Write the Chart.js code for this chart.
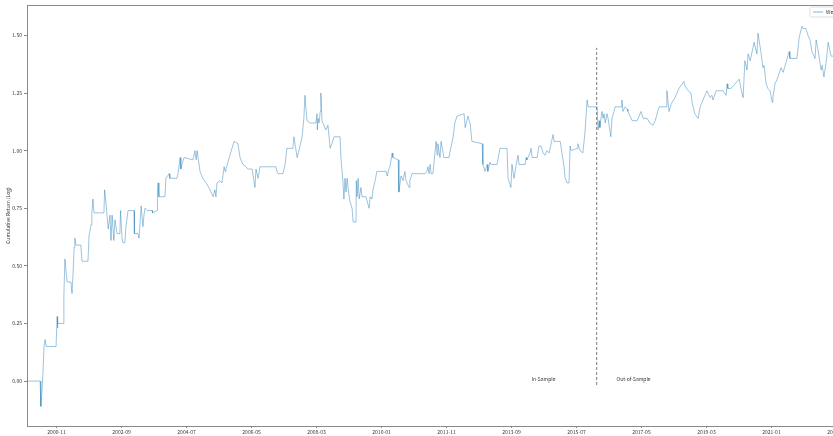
<!DOCTYPE html>
<html>
<head>
<meta charset="utf-8">
<script src="https://cdn.jsdelivr.net/npm/chart.js@4"></script>
<style>
html, body { margin: 0; padding: 0; background: #fff; overflow: hidden; }
canvas { display: block; }
</style>
</head>
<body>
<canvas id="chart" width="860" height="436"></canvas>
<script>
// dates as decimal years
const dates = [
  2000.00, 2000.37, 2000.39, 2000.42, 2000.45, 2000.48, 2000.51, 2000.54, 2000.82, 2000.85,
  2000.86, 2000.87, 2001.02, 2001.04, 2001.07, 2001.10, 2001.13, 2001.24, 2001.27, 2001.30,
  2001.33, 2001.35, 2001.38, 2001.52, 2001.55, 2001.72, 2001.75, 2001.81, 2001.83, 2001.86,
  2001.89, 2002.17, 2002.19, 2002.23, 2002.29, 2002.34, 2002.37, 2002.40, 2002.45, 2002.48,
  2002.54, 2002.62, 2002.64, 2002.68, 2002.71, 2002.76, 2002.79, 2002.85, 2003.02, 2003.03,
  2003.13, 2003.16, 2003.22, 2003.27, 2003.30, 2003.33, 2003.39, 2003.53, 2003.54, 2003.67,
  2003.68, 2003.70, 2003.72, 2003.89, 2003.92, 2004.01, 2004.03, 2004.23, 2004.26, 2004.32,
  2004.34, 2004.37, 2004.43, 2004.68, 2004.74, 2004.77, 2004.80, 2004.88, 2004.96, 2005.05,
  2005.13, 2005.22, 2005.25, 2005.30, 2005.33, 2005.36, 2005.44, 2005.50, 2005.56, 2005.59,
  2005.61, 2005.84, 2005.95, 2006.01, 2006.09, 2006.18, 2006.23, 2006.35, 2006.43, 2006.46,
  2006.52, 2006.57, 2006.63, 2007.02, 2007.05, 2007.08, 2007.22, 2007.28, 2007.33, 2007.50,
  2007.53, 2007.62, 2007.67, 2007.76, 2007.81, 2007.84, 2007.87, 2007.90, 2007.98, 2008.15,
  2008.18, 2008.19, 2008.21, 2008.24, 2008.27, 2008.29, 2008.32, 2008.43, 2008.49, 2008.55,
  2008.60, 2008.66, 2008.83, 2008.86, 2008.91, 2008.94, 2008.97, 2009.00, 2009.03, 2009.08,
  2009.11, 2009.17, 2009.20, 2009.28, 2009.29, 2009.31, 2009.34, 2009.37, 2009.42, 2009.45,
  2009.56, 2009.65, 2009.68, 2009.73, 2009.76, 2009.82, 2009.87, 2010.13, 2010.16, 2010.21,
  2010.24, 2010.30, 2010.32, 2010.47, 2010.49, 2010.55, 2010.61, 2010.66, 2010.69, 2010.78,
  2010.80, 2010.86, 2011.23, 2011.28, 2011.31, 2011.34, 2011.37, 2011.40, 2011.45, 2011.54,
  2011.57, 2011.59, 2011.65, 2011.68, 2011.76, 2011.90, 2012.02, 2012.07, 2012.13, 2012.33,
  2012.36, 2012.44, 2012.47, 2012.50, 2012.55, 2012.84, 2012.86, 2012.92, 2012.98, 2013.00,
  2013.06, 2013.09, 2013.26, 2013.34, 2013.54, 2013.57, 2013.65, 2013.68, 2013.74, 2013.79,
  2013.85, 2013.88, 2014.05, 2014.08, 2014.10, 2014.19, 2014.22, 2014.25, 2014.39, 2014.44,
  2014.50, 2014.56, 2014.61, 2014.67, 2014.73, 2014.84, 2014.87, 2015.04, 2015.12, 2015.15,
  2015.18, 2015.23, 2015.29, 2015.32, 2015.35, 2015.52, 2015.54, 2015.60, 2015.68, 2015.74,
  2015.80, 2015.83, 2016.08, 2016.11, 2016.14, 2016.16, 2016.19, 2016.22, 2016.25, 2016.28,
  2016.31, 2016.33, 2016.36, 2016.39, 2016.47, 2016.50, 2016.56, 2016.59, 2016.76, 2016.78,
  2016.81, 2016.87, 2016.93, 2016.95, 2017.07, 2017.21, 2017.24, 2017.32, 2017.38, 2017.41,
  2017.49, 2017.57, 2017.66, 2017.72, 2017.83, 2018.03, 2018.05, 2018.11, 2018.17, 2018.20,
  2018.28, 2018.39, 2018.53, 2018.56, 2018.65, 2018.73, 2018.76, 2018.84, 2018.93, 2018.99,
  2019.04, 2019.18, 2019.27, 2019.32, 2019.35, 2019.44, 2019.63, 2019.72, 2019.75, 2019.77,
  2019.86, 2020.09, 2020.14, 2020.20, 2020.25, 2020.31, 2020.34, 2020.40, 2020.51, 2020.59,
  2020.62, 2020.71, 2020.76, 2020.79, 2020.85, 2020.90, 2020.96, 2021.02, 2021.04, 2021.10,
  2021.16, 2021.27, 2021.33, 2021.50, 2021.52, 2021.72, 2021.78, 2021.86, 2021.89, 2021.97,
  2022.03, 2022.09, 2022.14, 2022.23, 2022.26, 2022.31, 2022.40, 2022.43, 2022.48, 2022.54,
  2022.60, 2022.68, 2022.74, 2022.93, 2023.22
];

const cumReturn = [
  0.00, 0.00, -0.11, -0.05, 0.03, 0.15, 0.18, 0.15, 0.15, 0.28,
  0.23, 0.25, 0.25, 0.37, 0.53, 0.48, 0.43, 0.43, 0.38, 0.47,
  0.58, 0.62, 0.59, 0.59, 0.52, 0.52, 0.63, 0.68, 0.73, 0.79,
  0.73, 0.73, 0.83, 0.77, 0.66, 0.72, 0.61, 0.72, 0.61, 0.70,
  0.64, 0.64, 0.74, 0.62, 0.60, 0.60, 0.67, 0.74, 0.74, 0.64,
  0.64, 0.62, 0.76, 0.67, 0.72, 0.75, 0.74, 0.74, 0.73, 0.74,
  0.83, 0.86, 0.80, 0.80, 0.88, 0.90, 0.88, 0.88, 0.90, 0.97,
  0.92, 0.94, 0.97, 0.96, 1.00, 0.96, 1.00, 0.91, 0.88, 0.86,
  0.84, 0.81, 0.80, 0.83, 0.80, 0.86, 0.87, 0.86, 0.93, 0.91,
  0.92, 1.04, 1.03, 0.97, 0.94, 0.93, 0.92, 0.92, 0.84, 0.92,
  0.88, 0.93, 0.93, 0.93, 0.91, 0.90, 0.90, 0.94, 1.01, 1.01,
  1.06, 0.97, 1.00, 1.06, 1.14, 1.24, 1.18, 1.13, 1.12, 1.12,
  1.16, 1.09, 1.14, 1.12, 1.17, 1.25, 1.13, 1.09, 1.11, 1.01,
  1.03, 1.06, 1.06, 0.96, 0.87, 0.79, 0.88, 0.82, 0.88, 0.81,
  0.78, 0.75, 0.69, 0.69, 0.87, 0.80, 0.88, 0.79, 0.84, 0.80,
  0.80, 0.75, 0.80, 0.79, 0.83, 0.87, 0.91, 0.91, 0.89, 0.92,
  0.93, 0.99, 0.97, 0.96, 0.82, 0.89, 0.87, 0.91, 0.87, 0.84,
  0.87, 0.90, 0.90, 0.91, 0.93, 0.90, 0.94, 0.90, 0.90, 1.04,
  0.98, 1.03, 0.97, 1.04, 0.97, 0.97, 1.06, 1.12, 1.15, 1.16,
  1.10, 1.15, 1.13, 1.12, 1.04, 1.03, 0.94, 0.91, 0.94, 0.91,
  0.95, 0.94, 0.94, 1.01, 1.01, 0.88, 0.84, 0.94, 0.88, 0.93,
  0.98, 0.94, 0.94, 0.97, 0.96, 0.99, 1.01, 0.97, 0.97, 1.02,
  1.02, 0.99, 0.98, 1.00, 0.99, 1.07, 1.04, 1.04, 0.96, 0.93,
  0.88, 0.86, 0.86, 1.02, 1.00, 1.01, 1.03, 1.00, 0.99, 1.08,
  1.22, 1.19, 1.19, 1.09, 1.13, 1.10, 1.14, 1.17, 1.14, 1.16,
  1.12, 1.12, 1.16, 1.14, 1.06, 1.14, 1.17, 1.19, 1.19, 1.22,
  1.17, 1.19, 1.18, 1.17, 1.13, 1.13, 1.14, 1.17, 1.14, 1.14,
  1.14, 1.12, 1.11, 1.13, 1.19, 1.19, 1.26, 1.17, 1.20, 1.21,
  1.23, 1.27, 1.30, 1.28, 1.26, 1.25, 1.21, 1.16, 1.14, 1.19,
  1.21, 1.26, 1.23, 1.24, 1.22, 1.26, 1.26, 1.24, 1.29, 1.27,
  1.27, 1.31, 1.27, 1.23, 1.39, 1.35, 1.42, 1.39, 1.47, 1.42,
  1.51, 1.42, 1.36, 1.37, 1.29, 1.27, 1.26, 1.21, 1.23, 1.29,
  1.31, 1.36, 1.34, 1.43, 1.40, 1.40, 1.49, 1.54, 1.53, 1.53,
  1.50, 1.48, 1.43, 1.40, 1.48, 1.44, 1.35, 1.37, 1.32, 1.38,
  1.47, 1.41, 1.41, 1.42, 1.40
];

const xTickLabels = ['2000-11', '2002-09', '2004-07', '2006-05', '2008-03', '2010-01',
  '2011-11', '2013-09', '2015-07', '2017-05', '2019-03', '2021-01', '2022-11'];
const yTickValues = [0.00, 0.25, 0.50, 0.75, 1.00, 1.25, 1.50];

const seriesLabel = 'Weighted';
const splitDate = 2016.07;
const splitRange = [-0.017, 1.446];
const sampleNotes = [
  { text: 'In-Sample', x: 2014.57, y: 0.01 },
  { text: 'Out-of-Sample', x: 2017.11, y: 0.01 }
];

const FONT = "'Noto Sans CJK SC', 'DejaVu Sans', sans-serif";
const LINE = 'rgba(31,119,180,0.55)';
const SPINE = '#8a8a8a';

const toYear = s => {
  const [y, m] = s.split('-').map(Number);
  return y + (m - 1) / 12;
};

const framePlugin = {
  id: 'frame',
  afterDraw(chart) {
    const { ctx, chartArea: a, scales } = chart;
    ctx.save();
    // top spine
    ctx.strokeStyle = SPINE;
    ctx.lineWidth = 1;
    ctx.beginPath();
    ctx.moveTo(a.left, a.top + 0.5);
    ctx.lineTo(a.right, a.top + 0.5);
    ctx.stroke();

    // sample notes
    ctx.fillStyle = '#333';
    ctx.font = '5px ' + FONT;
    ctx.textAlign = 'center';
    ctx.textBaseline = 'middle';
    sampleNotes.forEach(n => {
      ctx.fillText(n.text, scales.x.getPixelForValue(n.x), scales.y.getPixelForValue(n.y));
    });

    // legend box, top right
    const lx = a.right - 43, ly = a.top + 2;
    ctx.fillStyle = 'rgba(255,255,255,0.8)';
    ctx.strokeStyle = '#d8d8d8';
    ctx.lineWidth = 0.8;
    ctx.beginPath();
    ctx.roundRect(lx, ly, 40, 10, 1.5);
    ctx.fill();
    ctx.stroke();
    ctx.strokeStyle = LINE;
    ctx.lineWidth = 1;
    ctx.beginPath();
    ctx.moveTo(lx + 3, ly + 5);
    ctx.lineTo(lx + 13, ly + 5);
    ctx.stroke();
    ctx.fillStyle = '#333';
    ctx.textAlign = 'left';
    ctx.fillText(seriesLabel, lx + 16, ly + 5.2);
    ctx.restore();
  }
};

new Chart(document.getElementById('chart').getContext('2d'), {
  type: 'line',
  data: {
    datasets: [
      {
        label: seriesLabel,
        data: dates.map((d, i) => ({ x: d, y: cumReturn[i] })),
        borderColor: LINE,
        borderWidth: 0.8,
        pointRadius: 0,
        tension: 0
      },
      {
        label: 'split',
        data: splitRange.map(v => ({ x: splitDate, y: v })),
        borderColor: '#555',
        borderWidth: 0.8,
        borderDash: [3, 2],
        pointRadius: 0
      }
    ]
  },
  options: {
    responsive: false,
    animation: false,
    layout: { padding: { top: 4, right: 7, left: 0, bottom: 0 } },
    plugins: { legend: { display: false }, tooltip: { enabled: false } },
    scales: {
      x: {
        type: 'linear',
        min: 2000,
        max: 2023.3,
        afterFit: s => { s.height = 10; },
        afterBuildTicks: s => { s.ticks = xTickLabels.map(l => ({ value: toYear(l) })); },
        ticks: {
          autoSkip: false,
          maxRotation: 0,
          padding: 1,
          color: '#333',
          font: { family: FONT, size: 5 },
          callback: (v, i) => xTickLabels[i]
        },
        grid: { drawOnChartArea: false, tickLength: 2, color: SPINE },
        border: { color: SPINE, width: 1 }
      },
      y: {
        min: -0.195,
        max: 1.632,
        afterFit: s => { s.width = 27; },
        afterBuildTicks: s => { s.ticks = yTickValues.map(v => ({ value: v })); },
        ticks: {
          padding: 2,
          color: '#333',
          font: { family: FONT, size: 5 },
          callback: v => v.toFixed(2)
        },
        grid: { drawOnChartArea: false, tickLength: 3, color: SPINE },
        border: { color: SPINE, width: 1 },
        title: {
          display: true,
          text: 'Cumulative Return (Log)',
          color: '#333',
          font: { family: FONT, size: 5 },
          padding: { top: 5, bottom: 0 }
        }
      }
    }
  },
  plugins: [framePlugin]
});
</script>
</body>
</html>
